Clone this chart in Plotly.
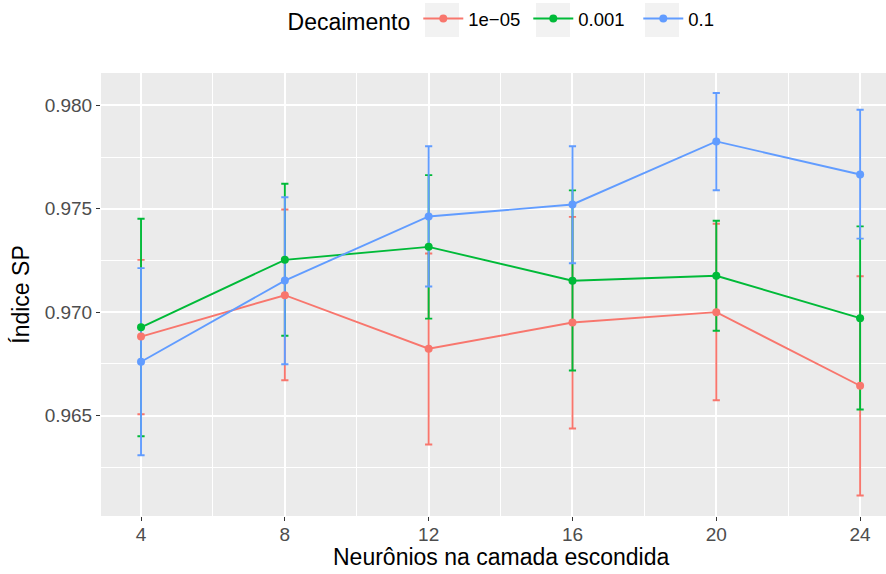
import plotly.graph_objects as go

neurons = [4, 8, 12, 16, 20, 24]
decays = ["1e\u221205", "0.001", "0.1"]
colors = ["#F8766D", "#00BA38", "#619CFF"]

mean_1e05 = [0.96882, 0.97082, 0.96823, 0.96950, 0.97000, 0.96644]
low_1e05 = [0.96506, 0.96671, 0.96360, 0.96437, 0.96574, 0.96113]
high_1e05 = [0.97253, 0.97497, 0.97284, 0.97461, 0.97428, 0.97174]

mean_0001 = [0.96927, 0.97253, 0.97316, 0.97152, 0.97176, 0.96971]
low_0001 = [0.96400, 0.96886, 0.96969, 0.96718, 0.96910, 0.96529]
high_0001 = [0.97452, 0.97621, 0.97663, 0.97589, 0.97442, 0.97415]

mean_01 = [0.96760, 0.97153, 0.97463, 0.97521, 0.97826, 0.97666]
low_01 = [0.96308, 0.96748, 0.97124, 0.97237, 0.97590, 0.97356]
high_01 = [0.97213, 0.97556, 0.97803, 0.97803, 0.98060, 0.97979]

series = [
    (mean_1e05, low_1e05, high_1e05),
    (mean_0001, low_0001, high_0001),
    (mean_01, low_01, high_01),
]

W, H = 886, 574
ML, MR, MT, MB = 101, 0, 73, 58
PW, PH = W - ML - MR, H - MT - MB


def px_to_paper_x(px):
    return (px - ML) / PW


def px_to_paper_y(py):
    return (H - MB - py) / PH


fig = go.Figure()

# error bars first (drawn beneath lines and points)
for (m, lo, hi), name, c in zip(series, decays, colors):
    fig.add_trace(go.Scatter(
        x=neurons, y=m, mode="markers", marker=dict(size=1, opacity=0, color=c),
        error_y=dict(type="data", symmetric=False,
                     array=[h - v for h, v in zip(hi, m)],
                     arrayminus=[v - l for v, l in zip(m, lo)],
                     color=c, thickness=1.9, width=3.6),
        showlegend=False, hoverinfo="skip"))

for (m, lo, hi), name, c in zip(series, decays, colors):
    fig.add_trace(go.Scatter(
        x=neurons, y=m, mode="lines+markers", name=name,
        line=dict(color=c, width=1.9), marker=dict(color=c, size=8)))

axis_common = dict(
    showgrid=True, gridcolor="white", gridwidth=1.9,
    zeroline=False, showline=False,
    ticks="outside", ticklen=4, tickwidth=1.2, tickcolor="#333333",
    tickfont=dict(family="Liberation Sans", size=19, color="#4D4D4D"),
)

# grey legend key backgrounds (ggplot style)
shapes = []
for cx in [442, 553, 662]:
    shapes.append(dict(type="rect", xref="paper", yref="paper",
                       x0=px_to_paper_x(cx - 17), x1=px_to_paper_x(cx + 17),
                       y0=px_to_paper_y(37), y1=px_to_paper_y(3),
                       fillcolor="#F2F2F2", line=dict(width=0), layer="above"))

fig.update_layout(
    width=W, height=H,
    margin=dict(l=ML, r=MR, t=MT, b=MB),
    paper_bgcolor="white", plot_bgcolor="#EBEBEB",
    font=dict(family="Liberation Sans", color="black"),
    xaxis=dict(range=[2.887, 24.72], tickvals=neurons,
               minor=dict(showgrid=True, gridcolor="white", gridwidth=0.9,
                          tick0=2, dtick=4, ticks=""),
               ticklabelstandoff=-3,
               **axis_common),
    yaxis=dict(range=[0.96014, 0.98157],
               tickvals=[0.965, 0.970, 0.975, 0.980],
               ticktext=["0.965", "0.970", "0.975", "0.980"],
               minor=dict(showgrid=True, gridcolor="white", gridwidth=0.9,
                          tick0=0.9625, dtick=0.005, ticks=""),
               title=dict(text="Índice SP", font=dict(size=23), standoff=8),
               **axis_common),
    legend=dict(orientation="h", x=0.530, xanchor="center", y=1.12, yanchor="middle",
                title=dict(text="Decaimento", font=dict(size=23), side="left"),
                font=dict(size=18.5), bgcolor="rgba(0,0,0,0)",
                itemwidth=40, entrywidth=55),
    shapes=shapes,
    annotations=[dict(text="Neurônios na camada escondida", xref="paper", yref="paper",
                      x=px_to_paper_x(501), y=px_to_paper_y(557),
                      xanchor="center", yanchor="middle", showarrow=False,
                      font=dict(size=23, color="black"))],
)

fig.write_html("out.html")
